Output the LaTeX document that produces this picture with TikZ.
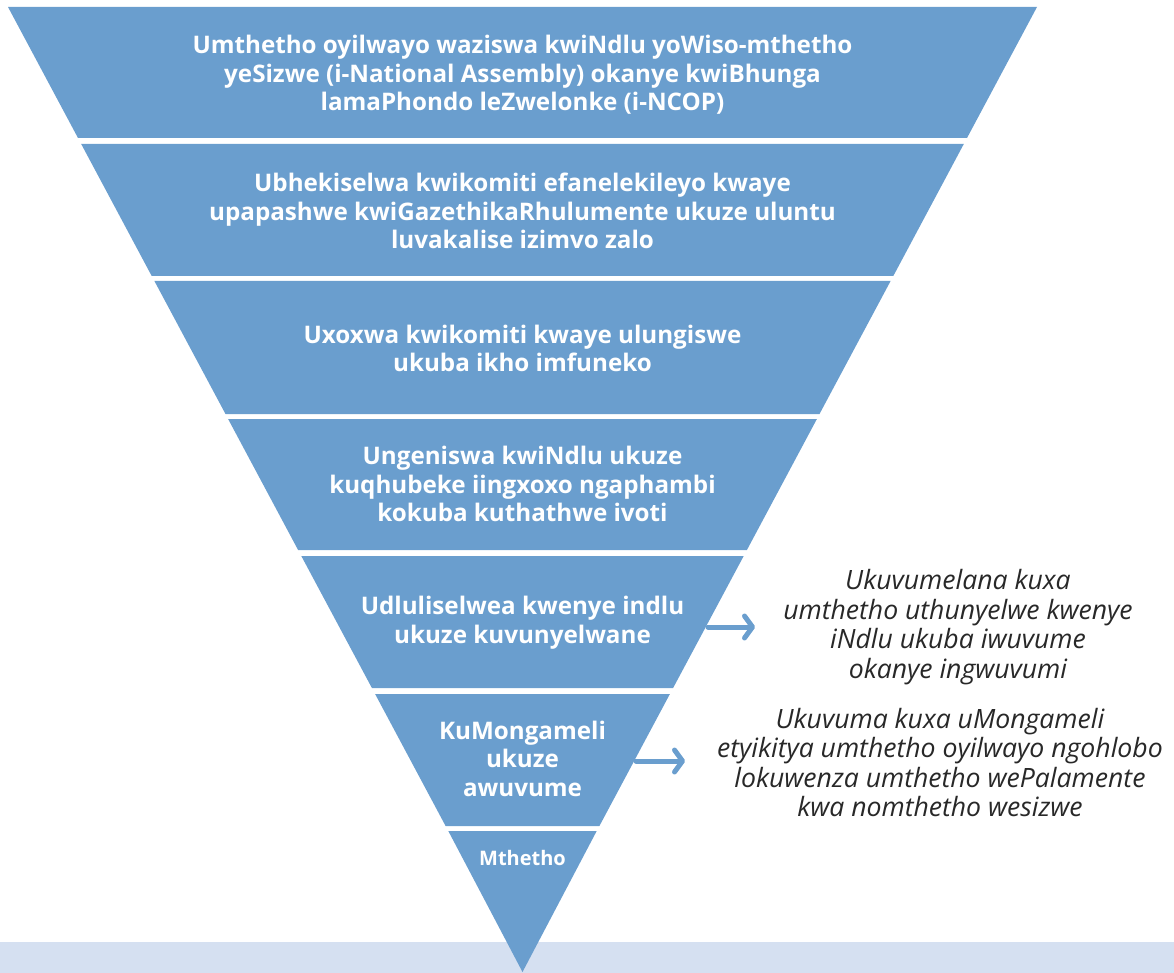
\documentclass[tikz,border=0pt]{standalone}
\usepackage{fontspec}
\setmainfont{Open Sans}
\usetikzlibrary{arrows.meta}
\definecolor{bandblue}{RGB}{106,158,206}
\definecolor{lightband}{RGB}{213,224,241}
\definecolor{notegray}{RGB}{40,40,40}
\tikzset{
  bandfill/.style={fill=bandblue, draw=none},
  bandtext/.style={text=white, font=\bfseries\fontsize{24.2}{28.5}\selectfont, align=center, inner sep=0pt},
  notetext/.style={text=notegray, font=\itshape\fontsize{26.6}{29.5}\selectfont, align=center, inner sep=0pt},
  sidearrow/.style={draw=bandblue, line width=5pt, line cap=round, -{Straight Barb[length=8pt,width=22pt,round]}}
}
\begin{document}
\begin{tikzpicture}[x=1pt,y=-1pt]
\useasboundingbox (0,0) rectangle (1174,973);
\fill[lightband] (0,942) rectangle (1174,973);
% bands
\fill[bandfill] (8,7) -- (1037,7) -- (967,138) -- (78,138) -- cycle;
\fill[bandfill] (81.2,144) -- (963.8,144) -- (893.3,276) -- (151.7,276) -- cycle;
\fill[bandfill] (154.4,281) -- (890.6,281) -- (819.5,414) -- (225.5,414) -- cycle;
\fill[bandfill] (228.1,419) -- (816.9,419) -- (746.9,550) -- (298.1,550) -- cycle;
\fill[bandfill] (301.3,556) -- (743.7,556) -- (673.1,688) -- (371.9,688) -- cycle;
\fill[bandfill] (375.1,694) -- (669.9,694) -- (599.4,826) -- (445.6,826) -- cycle;
\fill[bandfill] (448.3,831) -- (596.7,831) -- (522.5,972) -- cycle;
% texts
\node[bandtext] (b1) at (522.5,75) {Umthetho oyilwayo waziswa kwiNdlu yoWiso-mthetho\\yeSizwe (i-National Assembly) okanye kwiBhunga\\lamaPhondo leZwelonke (i-NCOP)};
\node[bandtext] (b2) at (522.5,211) {Ubhekiselwa kwikomiti efanelekileyo kwaye\\upapashwe kwiGazethikaRhulumente ukuze uluntu\\luvakalise izimvo zalo};
\node[bandtext] (b3) at (522.5,348.5) {Uxoxwa kwikomiti kwaye ulungiswe\\ukuba ikho imfuneko};
\node[bandtext] (b4) at (522.5,484) {Ungeniswa kwiNdlu ukuze\\kuqhubeke iingxoxo ngaphambi\\kokuba kuthathwe ivoti};
\node[bandtext] (b5) at (522.5,622.5) {Udluliselwea kwenye indlu\\ukuze kuvunyelwane};
\node[bandtext] (b6) at (522.5,758.5) {KuMongameli\\ukuze\\awuvume};
\node[bandtext, font=\bfseries\fontsize{20}{24}\selectfont] (b7) at (522.5,858) {Mthetho};
\node[notetext] (n1) at (958,627) {Ukuvumelana kuxa\\umthetho uthunyelwe kwenye\\iNdlu ukuba iwuvume\\okanye ingwuvumi};
\node[notetext] (n2) at (940,762.5) {Ukuvuma kuxa uMongameli\\etyikitya umthetho oyilwayo ngohlobo\\lokuwenza umthetho wePalamente\\kwa nomthetho wesizwe};
% arrows
\coordinate (a1s) at (708,627);
\coordinate (a1e) at (755,627);
\coordinate (a2s) at (636,761);
\coordinate (a2e) at (685,761);
\draw[sidearrow] (a1s) -- (a1e);
\draw[sidearrow] (a2s) -- (a2e);
\end{tikzpicture}
\end{document}
